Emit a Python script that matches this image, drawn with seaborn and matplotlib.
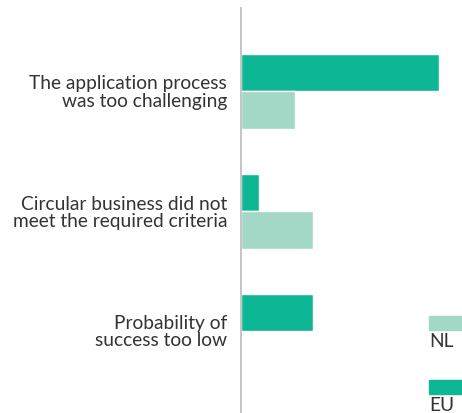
import pandas as pd
import matplotlib
matplotlib.use("Agg")
import matplotlib.pyplot as plt
import seaborn as sns
from matplotlib.patches import Rectangle

# data
categories = [
    "The application process\nwas too challenging",
    "Circular business did not\nmeet the required criteria",
    "Probability of\nsuccess too low",
]
eu_values = [11, 1, 4]
nl_values = [3, 4, 0]
series = ["EU", "NL"]
colors = {"EU": "#0db795", "NL": "#a3d7c6"}

df = pd.DataFrame({
    "reason": categories * 2,
    "value": eu_values + nl_values,
    "region": ["EU"] * 3 + ["NL"] * 3,
})

sns.set_style("white")
plt.rcParams["font.family"] = ["Lato", "DejaVu Sans"]

W, H = 462, 413
fig = plt.figure(figsize=(W / 100, H / 100), dpi=100)

# axes: left spine at x=241px, top at y=8px
ax = fig.add_axes([241 / W, 0, (W - 241) / W, (H - 8) / H])

sns.barplot(
    data=df, x="value", y="reason", hue="region",
    hue_order=series, order=categories, palette=colors,
    orient="h", width=0.625, legend=False, ax=ax,
    saturation=1,
)

ax.set_xlim(0, (W - 241) / 18)
ax.set_ylim(2 + (H - 331) / 120, -(91 - 8) / 120)
ax.set_xlabel("")
ax.set_ylabel("")
ax.set_xticks([])

for s in ["top", "right", "bottom"]:
    ax.spines[s].set_visible(False)
ax.spines["left"].set_color("#bbbbbb")
ax.spines["left"].set_linewidth(1.2)

ax.tick_params(axis="y", length=0, pad=10, labelsize=13.8, labelcolor="#333333")
for lab in ax.get_yticklabels():
    lab.set_linespacing(1.0)

# legend: swatch above label, drawn by hand
for name, top in [("NL", 316), ("EU", 380)]:
    fig.patches.append(Rectangle(
        (429 / W, 1 - (top + 14) / H), 40 / W, 14 / H,
        transform=fig.transFigure, color=colors[name], figure=fig,
    ))
    fig.text(429 / W, 1 - (top + 17) / H, name, ha="left", va="top",
             fontsize=13.8, color="#333333")

fig.savefig("out.png", dpi=100)
